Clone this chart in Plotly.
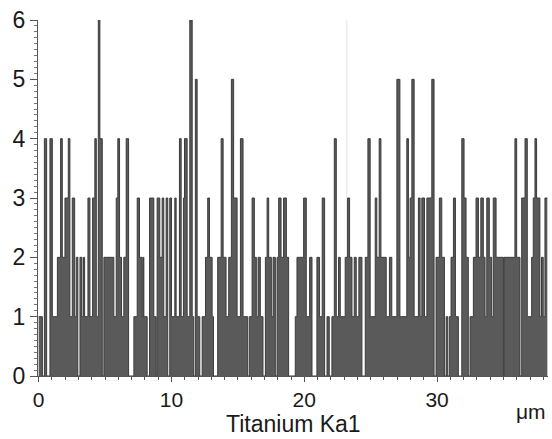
import plotly.graph_objects as go

# Scan positions (µm) where each count level starts, and the counts
position_um = [
    0.00, 0.28, 0.43, 0.60, 0.85, 1.03, 1.41, 1.65, 1.78, 1.98, 2.23, 2.35, 2.53, 2.71, 2.83, 2.95,
    3.11, 3.26, 3.38, 3.46, 3.71, 3.86, 4.06, 4.23, 4.34, 4.49, 4.61, 4.79, 4.91, 5.66, 5.84, 5.96,
    6.09, 6.24, 6.41, 6.59, 6.77, 7.17, 7.42, 7.59, 7.80, 7.87, 7.92, 8.17, 8.35, 8.67, 8.85, 8.92,
    9.12, 9.30, 9.42, 9.60, 9.72, 9.87, 10.00, 10.25, 10.35, 10.60, 10.73, 10.90, 10.98, 11.18,
    11.38, 11.56, 11.68, 11.80, 11.93, 12.13, 12.31, 12.56, 12.73, 12.86, 13.06, 13.16, 13.48,
    13.74, 13.89, 14.11, 14.31, 14.51, 14.68, 14.94, 15.19, 15.39, 15.74, 15.86, 16.07, 16.24,
    16.39, 16.52, 16.69, 16.89, 17.07, 17.20, 17.32, 17.52, 17.65, 17.82, 17.95, 18.07, 18.25,
    18.44, 18.65, 18.82, 19.32, 19.45, 19.95, 20.15, 20.40, 20.58, 20.95, 21.15, 21.35, 21.53,
    21.71, 21.88, 22.08, 22.26, 22.41, 22.58, 22.71, 23.08, 23.26, 23.41, 23.59, 23.76, 23.91,
    24.11, 24.34, 24.59, 24.79, 24.96, 25.34, 25.46, 25.64, 25.77, 26.17, 26.41, 26.59, 26.97,
    27.20, 27.72, 27.84, 27.97, 28.10, 28.27, 28.59, 28.72, 28.85, 29.05, 29.23, 29.60, 29.77,
    29.92, 30.17, 30.35, 30.55, 30.68, 30.80, 30.92, 31.05, 31.23, 31.38, 31.60, 31.86, 32.03,
    32.18, 32.35, 32.48, 32.73, 32.93, 33.11, 33.29, 33.48, 33.61, 33.74, 33.93, 34.11, 34.23,
    34.44, 34.99, 35.04, 35.86, 35.99, 36.24, 36.37, 36.62, 36.79, 37.12, 37.24, 37.37, 37.49,
    37.74, 37.86, 37.99, 38.12,
]
counts = [
    1, 0, 4, 0, 4, 1, 2, 4, 2, 3, 4, 1, 3, 1, 2, 0,
    2, 1, 2, 1, 3, 1, 3, 4, 1, 6, 4, 0, 2, 1, 3, 4,
    2, 1, 2, 4, 0, 1, 3, 2, 1, 2, 1, 0, 3, 1, 0, 3,
    2, 3, 1, 3, 0, 3, 1, 3, 1, 4, 1, 3, 4, 1,
    6, 1, 0, 5, 1, 0, 1, 2, 3, 2, 1, 0, 2,
    4, 2, 1, 2, 5, 3, 1, 4, 1, 0, 1, 3, 2,
    1, 2, 1, 0, 2, 3, 2, 1, 2, 0, 2, 3, 2,
    3, 2, 0, 1, 2, 3, 1, 2, 0, 2, 1, 3, 0,
    1, 0, 1, 4, 1, 2, 1, 2, 3, 2, 1, 2, 1,
    2, 0, 2, 4, 1, 3, 2, 4, 2, 1, 2, 1, 5,
    1, 4, 2, 3, 5, 1, 3, 1, 3, 1, 3, 5, 0,
    2, 3, 2, 0, 1, 0, 1, 2, 3, 1, 0, 4, 3,
    2, 0, 1, 2, 3, 2, 3, 2, 1, 3, 2, 1, 3,
    2, 0, 2, 4, 2, 0, 3, 4, 1, 2, 3, 4, 3,
    1, 2, 1, 3,
]
scan_end_um = 38.30
cursor_um = 23.2

y_ticks = [0, 1, 2, 3, 4, 5, 6]
x_ticks = [0, 10, 20, 30]
x_tick_labels = ["0", "10", "20", "30"]

x = position_um + [scan_end_um]
y = counts + [counts[-1]]

font_family = "Liberation Sans, Arial, sans-serif"
text_color = "#1a1a1a"

fig = go.Figure()
fig.add_trace(go.Scatter(
    x=x, y=y, mode="lines",
    line=dict(shape="hv", color="#3c3c3c", width=1),
    fill="tozeroy", fillcolor="#5a5a5a",
    hoverinfo="skip", showlegend=False,
))

fig.add_shape(type="line", x0=cursor_um, x1=cursor_um, y0=0, y1=6,
              xref="x", yref="y", line=dict(color="#e4e4e4", width=1), layer="below")

fig.update_layout(
    width=552, height=439,
    margin=dict(l=38, r=4, t=20, b=63, autoexpand=False),
    paper_bgcolor="white", plot_bgcolor="white",
    font=dict(family=font_family, color=text_color),
    showlegend=False,
)
fig.update_xaxes(
    automargin=False,
    range=[-0.05, scan_end_um + 0.05],
    tickvals=x_ticks, ticktext=x_tick_labels,
    ticks="outside", ticklen=5, tickwidth=1, tickcolor="#555",
    minor=dict(dtick=1, ticks="outside", ticklen=3, tickcolor="#555"),
    showline=True, linecolor="#555", linewidth=1,
    showgrid=False, zeroline=False,
    tickfont=dict(size=21, color=text_color),
)
fig.update_yaxes(
    automargin=False,
    range=[0, 6],
    tickvals=y_ticks,
    ticks="outside", ticklen=7, tickwidth=1, tickcolor="#555",
    minor=dict(dtick=0.1, ticks="outside", ticklen=3, tickcolor="#777"),
    showline=True, linecolor="#555", linewidth=1,
    showgrid=False, zeroline=False,
    tickfont=dict(size=23, color=text_color),
)
fig.add_annotation(text="Titanium Ka1", xref="paper", yref="paper", x=0.5, y=-0.177,
                   xanchor="center", yanchor="bottom", showarrow=False,
                   font=dict(size=23, color=text_color, family=font_family))
fig.add_annotation(text="μm", xref="paper", yref="paper", x=1.0, y=-0.101,
                   xanchor="right", yanchor="middle", showarrow=False,
                   font=dict(size=21, color=text_color, family=font_family))

fig.write_html("out.html", config={"displayModeBar": False},
               post_script="document.body.style.margin='0';")
